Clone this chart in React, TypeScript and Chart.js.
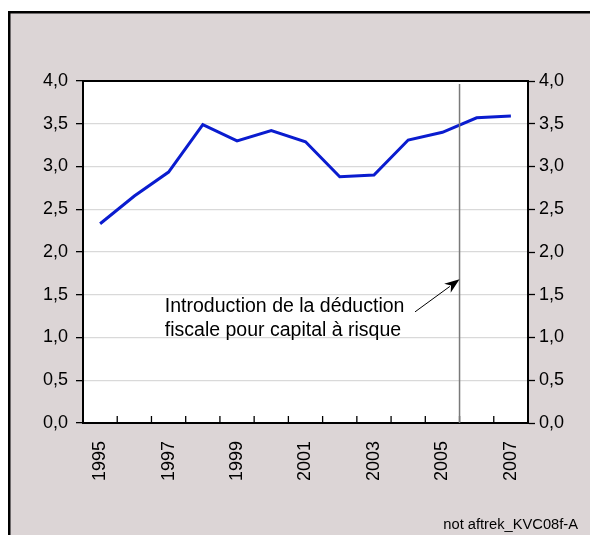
import React, { useEffect, useRef } from 'react';
import { Chart, registerables } from 'chart.js';

Chart.register(...registerables);

// ---- data ----
const years = ['1995', '1996', '1997', '1998', '1999', '2000', '2001', '2002', '2003', '2004', '2005', '2006', '2007'];
const values = [2.33, 2.655, 2.935, 3.49, 3.3, 3.42, 3.29, 2.88, 2.9, 3.31, 3.4, 3.57, 3.59];
const yMin = 0;
const yMax = 4;
const yStep = 0.5;
const markerBetween = [10, 11]; // vertical line between 2005 and 2006
const annotationLines = ['Introduction de la déduction', 'fiscale pour capital à risque'];
const annotationTextAt = { x: 1.89, y: [1.357, 1.076] };
const arrowFrom = { x: 9.2, y: 1.3 };
const arrowToY = 1.68;
const footer = 'not aftrek_KVC08f-A';

const FONT = '"Liberation Sans", Arial, Helvetica, sans-serif';
const BG = '#dcd5d6';
const LINE = '#0a1ccf';

const fmt = (v: number) => Number(v).toFixed(1).replace('.', ',');

export default function App() {
  const ref = useRef<HTMLCanvasElement | null>(null);

  useEffect(() => {
    if (!ref.current) return;

    const decor = {
      id: 'decor',
      beforeDraw(chart: any) {
        const ctx = chart.ctx;
        const { left, right, top, bottom } = chart.chartArea;
        ctx.save();
        // outer panel
        ctx.fillStyle = BG;
        ctx.fillRect(9, 12, chart.width, chart.height);
        ctx.strokeStyle = '#000';
        ctx.lineWidth = 2.5;
        ctx.beginPath();
        ctx.moveTo(9.25, chart.height + 2);
        ctx.lineTo(9.25, 12.25);
        ctx.lineTo(chart.width + 2, 12.25);
        ctx.stroke();
        // plot area
        ctx.fillStyle = '#fff';
        ctx.fillRect(left, top, right - left, bottom - top);
        ctx.restore();
      },
      afterDatasetsDraw(chart: any) {
        const ctx = chart.ctx;
        const xs = chart.scales.x;
        const ys = chart.scales.y;
        const { left, right, top, bottom } = chart.chartArea;
        ctx.save();
        // inner x ticks at category boundaries
        ctx.strokeStyle = '#000';
        ctx.lineWidth = 1.3;
        for (let i = 1; i < years.length; i++) {
          const x = (xs.getPixelForValue(i - 1) + xs.getPixelForValue(i)) / 2;
          ctx.beginPath();
          ctx.moveTo(x, bottom);
          ctx.lineTo(x, bottom - 7);
          ctx.stroke();
        }
        // vertical marker line
        const mx = (xs.getPixelForValue(markerBetween[0]) + xs.getPixelForValue(markerBetween[1])) / 2;
        ctx.strokeStyle = '#7a7a7a';
        ctx.lineWidth = 1.5;
        ctx.beginPath();
        ctx.moveTo(mx, top + 3);
        ctx.lineTo(mx, bottom);
        ctx.stroke();
        // top border of plot
        ctx.strokeStyle = '#000';
        ctx.lineWidth = 2;
        ctx.beginPath();
        ctx.moveTo(left, top);
        ctx.lineTo(right, top);
        ctx.stroke();
        // annotation text
        ctx.fillStyle = '#000';
        ctx.font = `19.5px ${FONT}`;
        ctx.textAlign = 'left';
        ctx.textBaseline = 'middle';
        const tx = xs.getPixelForValue(0) + (xs.getPixelForValue(1) - xs.getPixelForValue(0)) * annotationTextAt.x;
        annotationLines.forEach((t, i) => {
          ctx.fillText(t, tx, ys.getPixelForValue(annotationTextAt.y[i]));
        });
        // arrow
        const step = xs.getPixelForValue(1) - xs.getPixelForValue(0);
        const ax = xs.getPixelForValue(0) + step * arrowFrom.x;
        const ay = ys.getPixelForValue(arrowFrom.y);
        const bx = mx;
        const by = ys.getPixelForValue(arrowToY);
        const ang = Math.atan2(by - ay, bx - ax);
        const hl = 15;
        const hw = 5.5;
        ctx.strokeStyle = '#000';
        ctx.lineWidth = 1;
        ctx.beginPath();
        ctx.moveTo(ax, ay);
        ctx.lineTo(bx - Math.cos(ang) * hl * 0.8, by - Math.sin(ang) * hl * 0.8);
        ctx.stroke();
        ctx.beginPath();
        ctx.moveTo(bx, by);
        const bx0 = bx - Math.cos(ang) * hl;
        const by0 = by - Math.sin(ang) * hl;
        ctx.lineTo(bx0 + Math.sin(ang) * hw, by0 - Math.cos(ang) * hw);
        ctx.lineTo(bx - Math.cos(ang) * hl * 0.7, by - Math.sin(ang) * hl * 0.7);
        ctx.lineTo(bx0 - Math.sin(ang) * hw, by0 + Math.cos(ang) * hw);
        ctx.closePath();
        ctx.fill();
        // footer
        ctx.font = `14.7px ${FONT}`;
        ctx.textAlign = 'right';
        ctx.textBaseline = 'middle';
        ctx.fillText(footer, chart.width - 12, chart.height - 10);
        ctx.restore();
      },
    };

    const tickFont = { family: FONT, size: 18 };

    const chart = new Chart(ref.current, {
      type: 'line',
      data: {
        labels: years,
        datasets: [
          {
            data: values,
            borderColor: LINE,
            backgroundColor: LINE,
            borderWidth: 3,
            pointRadius: 0,
            tension: 0,
            yAxisID: 'y',
          },
        ],
      },
      options: {
        animation: false,
        responsive: true,
        maintainAspectRatio: false,
        layout: { padding: { top: 81, left: 0, right: 0, bottom: 0 } },
        plugins: { legend: { display: false }, tooltip: { enabled: false }, title: { display: false } },
        scales: {
          x: {
            type: 'category',
            offset: true,
            grid: { display: false, offset: true },
            border: { display: true, color: '#000', width: 2 },
            ticks: {
              autoSkip: false,
              maxRotation: 90,
              minRotation: 90,
              padding: 10,
              color: '#000',
              font: tickFont,
              callback: (_v: any, i: number) => (i % 2 === 0 ? years[i] : ''),
            },
            afterFit: (s: any) => {
              s.height = 112;
            },
          },
          y: {
            position: 'left',
            min: yMin,
            max: yMax,
            ticks: { stepSize: yStep, padding: 8, color: '#000', font: tickFont, callback: (v: any) => fmt(v) },
            grid: { color: '#d9d9d9', lineWidth: 1.3, tickColor: '#000', tickLength: 7, tickWidth: 1.3 },
            border: { color: '#000', width: 2 },
            afterFit: (s: any) => {
              s.width = 83;
            },
          },
          y2: {
            position: 'right',
            min: yMin,
            max: yMax,
            ticks: { stepSize: yStep, padding: 4, color: '#000', font: tickFont, callback: (v: any) => fmt(v) },
            grid: { drawOnChartArea: false, tickColor: '#000', tickLength: 7, tickWidth: 1.3 },
            border: { color: '#000', width: 2 },
            afterFit: (s: any) => {
              s.width = 62;
            },
          },
        },
      } as any,
      plugins: [decor],
    });

    return () => chart.destroy();
  }, []);

  return (
    <div style={{ position: 'fixed', left: 0, top: 0, width: 590, height: 535, background: '#fff' }}>
      <canvas ref={ref} />
    </div>
  );
}
